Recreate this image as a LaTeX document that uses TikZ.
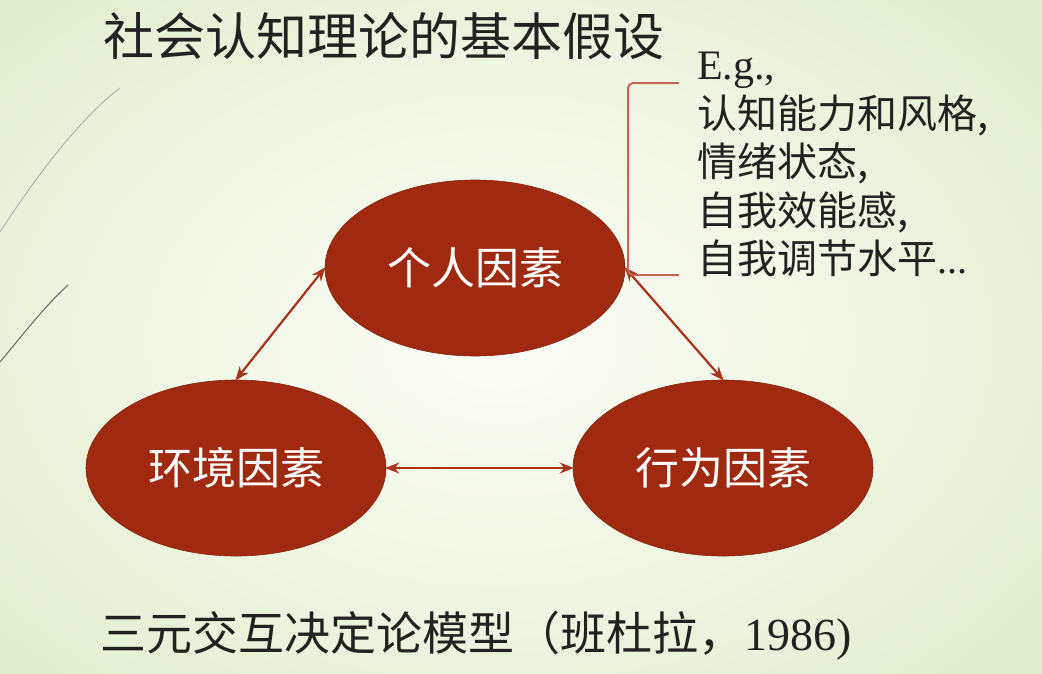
\documentclass[tikz,border=0pt]{standalone}
\usepackage{fontspec}
\usetikzlibrary{shapes.geometric,arrows.meta}
\setmainfont{Liberation Serif}
\newfontfamily\cjk{Noto Sans CJK SC}
\newfontfamily\latinserif{Liberation Serif}

\definecolor{bgin}{RGB}{253,253,249}
\definecolor{bgout}{RGB}{228,239,208}
\definecolor{ovalred}{RGB}{160,42,16}
\definecolor{arrowred}{RGB}{168,50,26}
\definecolor{bracketred}{RGB}{196,104,86}
\definecolor{inktext}{RGB}{34,34,34}

\tikzset{
  factor/.style={ellipse, fill=ovalred, draw=ovalred!85!black, line width=0.6pt,
    minimum width=300pt, minimum height=176pt, inner sep=0pt,
    text=white, font=\cjk\fontsize{44}{48}\selectfont},
  link/.style={{Stealth[length=14pt,width=11pt]}-{Stealth[length=14pt,width=11pt]},
    draw=arrowred, line width=2.2pt, shorten <=-1pt, shorten >=-1pt},
  bracket/.style={draw=bracketred, line width=2pt, rounded corners=5pt},
  sweep/.style={line width=1pt, line cap=round},
  heading/.style={anchor=base west, inner sep=0pt, text=inktext},
}

\begin{document}
\begin{tikzpicture}[x=1pt, y=-1pt]
  % page and soft radial background
  \useasboundingbox (0,0) rectangle (1042,673);
  \shade[inner color=bgin, outer color=bgout] (-160,-120) rectangle (1160,800);

  % decorative sweeping lines at the left edge
  \draw[sweep, draw=gray!60] (0,232) .. controls (35,178) and (80,118) .. (120,88);
  \draw[sweep, draw=gray!80!black] (0,362) .. controls (25,332) and (45,306) .. (68,285);

  % title
  \node[heading, font=\cjk\fontsize{51}{56}\selectfont] (title) at (103,55) {社会认知理论的基本假设};

  % the three interacting factors
  \node[factor] (person) at (475,268) {个人因素};
  \node[factor] (env)    at (236,468) {环境因素};
  \node[factor] (behav)  at (723,468) {行为因素};

  \draw[link] (person.west) -- (env.north);
  \draw[link] (person.east) -- (behav.north);
  \draw[link] (env.east) -- (behav.west);

  % examples of personal factors
  \node[anchor=north west, inner sep=0pt, align=left, text=inktext,
        font=\cjk\fontsize{40}{48.5}\selectfont] (examples) at (697,52)
    {{\latinserif\fontsize{42}{48.5}\selectfont E.g.,}\\认知能力和风格,\\情绪状态,\\自我效能感,\\自我调节水平{\latinserif ...}};

  % bracket tying the examples to the personal factor
  \coordinate (bTop) at (679,83);
  \coordinate (bBot) at (679,275);
  \draw[bracket] (bTop) -- (628,83) -- (628,275) -- (bBot);

  % caption
  \node[heading, font=\cjk\fontsize{46}{50}\selectfont] (caption) at (100,650)
    {三元交互决定论模型（班杜拉，{\latinserif 1986)}};
\end{tikzpicture}
\end{document}
